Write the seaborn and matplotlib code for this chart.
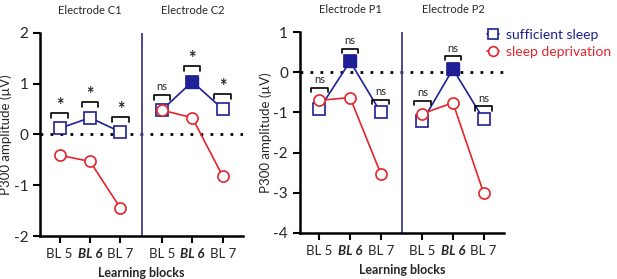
import numpy as np
import pandas as pd
import matplotlib.pyplot as plt
import seaborn as sns
from matplotlib.lines import Line2D
from matplotlib import transforms

# data
blocks = ['BL 5', 'BL 6', 'BL 7']
conditions = ['sufficient sleep', 'sleep deprivation']

c1_suff = [0.12, 0.33, 0.05]
c1_depr = [-0.41, -0.53, -1.45]
c2_suff = [0.48, 1.04, 0.50]
c2_depr = [0.48, 0.33, -0.82]

p1_suff = [-0.91, 0.27, -1.00]
p1_depr = [-0.70, -0.63, -2.52]
p2_suff = [-1.22, 0.08, -1.17]
p2_depr = [-1.03, -0.76, -3.00]

c1_sig = ['*', '*', '*']
c2_sig = ['ns', '*', '*']
p1_sig = ['ns', 'ns', 'ns']
p2_sig = ['ns', 'ns', 'ns']

# BL 6 square filled (significant main effect) per electrode
c_filled = [False, True]
p_filled = [True, True]

blue = '#1f1f96'
red = '#e3242b'
divider_col = '#3c3c9c'

sns.set_style('ticks')
plt.rcParams['font.family'] = ['Lato', 'DejaVu Sans']
plt.rcParams['axes.unicode_minus'] = False

pos1 = np.array([0, 1, 2])
pos2 = np.array([3.36, 4.36, 5.36])


def make_df(names, suff_list, depr_list):
    rows = []
    for name, pos, suff, depr in zip(names, [pos1, pos2], suff_list, depr_list):
        for i in range(3):
            rows.append([name, conditions[0], pos[i], suff[i]])
            rows.append([name, conditions[1], pos[i], depr[i]])
    return pd.DataFrame(rows, columns=['electrode', 'condition', 'pos', 'amp'])


def draw_panel(ax, df, names, suff_list, depr_list, sigs, filled, ylim, off):
    ax.axhline(0, color='black', ls=(0, (1, 2.6)), lw=2.0, zorder=1)
    ax.axvline(2.7, color=divider_col, lw=1.3, zorder=1)
    for cond, col, mk in [(conditions[0], blue, 's'), (conditions[1], red, 'o')]:
        sub = df[df['condition'] == cond]
        sns.lineplot(data=sub, x='pos', y='amp', units='electrode', estimator=None,
                     color=col, marker=mk, markersize=8, mfc='white', mec=col,
                     mew=1.2, lw=1.2, ax=ax, zorder=3)
    for pos, suff, fill in zip([pos1, pos2], suff_list, filled):
        if fill:
            ax.plot(pos[1], suff[1], marker='s', ms=8, color=blue, mec=blue, zorder=4, ls='none')
    # significance brackets
    for pos, suff, depr, sig in zip([pos1, pos2], suff_list, depr_list, sigs):
        for i in range(3):
            y = max(suff[i], depr[i]) + off
            h = off * 0.32
            ax.plot([pos[i] - 0.27, pos[i] - 0.27, pos[i] + 0.27, pos[i] + 0.27],
                    [y - h, y, y, y - h], color='black', lw=1.2, zorder=5, clip_on=False)
            if sig[i] == '*':
                ax.text(pos[i], y - h * 0.2, '*', ha='center', va='bottom', fontsize=13,
                        fontweight='bold', clip_on=False)
            else:
                ax.text(pos[i], y + h * 0.6, 'ns', ha='center', va='bottom', fontsize=8)
    trans = transforms.blended_transform_factory(ax.transData, ax.transAxes)
    for pos, name in zip([pos1, pos2], names):
        ax.text(pos[1], 1.11, 'Electrode ' + name, transform=trans, ha='center',
                va='center', fontsize=8)
    ax.set_xlim(-0.64, 6.03)
    ax.set_ylim(*ylim)
    ax.set_yticks(range(ylim[0], ylim[1] + 1))
    ax.set_xticks(list(pos1) + list(pos2))
    ax.set_xticklabels(blocks + blocks)
    for lab in ax.get_xticklabels():
        if lab.get_text() == 'BL 6':
            lab.set_fontweight('bold')
            lab.set_fontstyle('italic')
    ax.tick_params(axis='both', labelsize=11, width=1.5, length=5, color='black')
    ax.tick_params(axis='x', labelsize=9.5)
    for s in ['left', 'bottom']:
        ax.spines[s].set_linewidth(1.8)
        ax.spines[s].set_color('black')
    sns.despine(ax=ax)
    ax.set_xlabel('Learning blocks', fontweight='bold', fontsize=9, labelpad=5)
    ax.set_ylabel('P300 amplitude (\u00b5V)', fontsize=9.5, labelpad=1)


fig = plt.figure(figsize=(6.17, 2.79), dpi=100)
ax1 = fig.add_axes([0.065, 0.154, 0.329, 0.728])
ax2 = fig.add_axes([0.486, 0.165, 0.331, 0.72])

df_c = make_df(['C1', 'C2'], [c1_suff, c2_suff], [c1_depr, c2_depr])
df_p = make_df(['P1', 'P2'], [p1_suff, p2_suff], [p1_depr, p2_depr])

draw_panel(ax1, df_c, ['C1', 'C2'], [c1_suff, c2_suff], [c1_depr, c2_depr],
           [c1_sig, c2_sig], c_filled, (-2, 2), 0.3)
draw_panel(ax2, df_p, ['P1', 'P2'], [p1_suff, p2_suff], [p1_depr, p2_depr],
           [p1_sig, p2_sig], p_filled, (-4, 1), 0.32)

handles = [Line2D([], [], color=blue, marker='s', mfc='white', mec=blue, ms=7, mew=1.2, lw=1.2),
           Line2D([], [], color=red, marker='o', mfc='white', mec=red, ms=7, mew=1.2, lw=1.2)]
leg = fig.legend(handles, conditions, loc='upper left', bbox_to_anchor=(0.778, 0.92),
                 frameon=False, fontsize=10, handlelength=0.9, handletextpad=0.5,
                 labelspacing=0.35, borderpad=0)
for txt, col in zip(leg.get_texts(), [blue, red]):
    txt.set_color(col)

fig.savefig('out.png', dpi=100)
